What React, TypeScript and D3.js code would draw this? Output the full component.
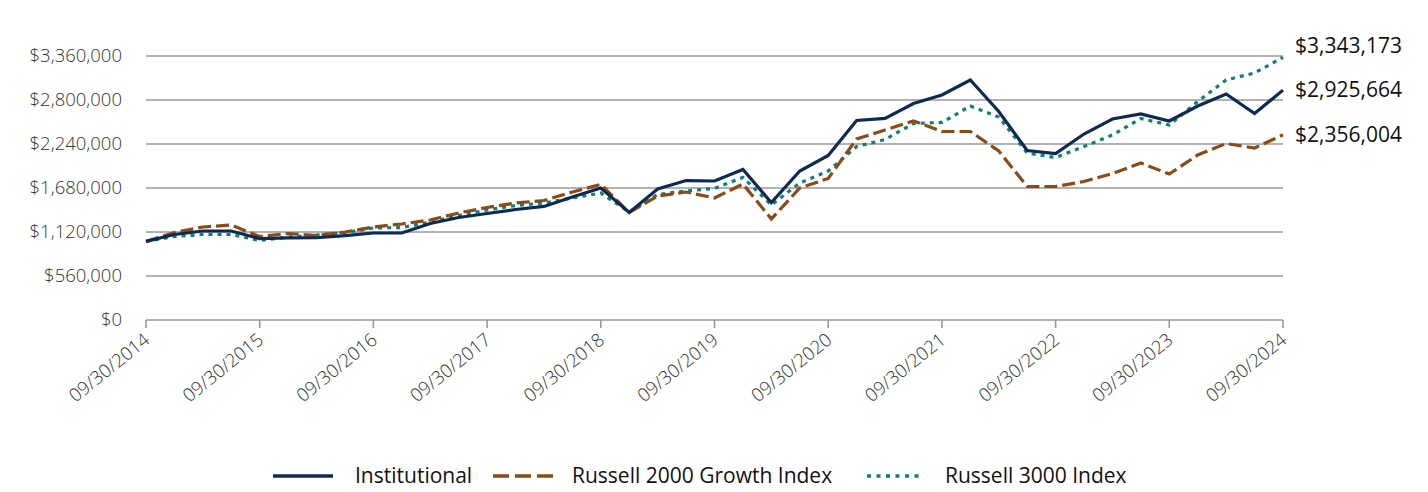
import React from "react";
import * as d3 from "d3";

const yearLabels = ["09/30/2014","09/30/2015","09/30/2016","09/30/2017","09/30/2018","09/30/2019","09/30/2020","09/30/2021","09/30/2022","09/30/2023","09/30/2024"];
const yTicks = [0, 560000, 1120000, 1680000, 2240000, 2800000, 3360000];

const institutional = [1000000,1088000,1133000,1133000,1037000,1044000,1047000,1075000,1107000,1107000,1228000,1305000,1355000,1406000,1445000,1565000,1680000,1368000,1667000,1775000,1769000,1915000,1495000,1896000,2094000,2539000,2565000,2755000,2864000,3055000,2654000,2157000,2119000,2367000,2558000,2622000,2533000,2724000,2876000,2628000,2925664];
const russell2000Growth = [1000000,1114000,1184000,1209000,1063000,1101000,1075000,1120000,1184000,1222000,1273000,1362000,1432000,1489000,1521000,1629000,1725000,1368000,1578000,1629000,1553000,1731000,1285000,1680000,1801000,2304000,2418000,2533000,2399000,2399000,2151000,1699000,1699000,1763000,1865000,1998000,1858000,2100000,2246000,2189000,2356004];
const russell3000 = [1000000,1063000,1088000,1088000,1012000,1056000,1082000,1114000,1171000,1177000,1247000,1330000,1400000,1457000,1489000,1553000,1616000,1375000,1597000,1642000,1674000,1814000,1464000,1744000,1896000,2208000,2297000,2501000,2514000,2724000,2584000,2125000,2068000,2208000,2355000,2565000,2482000,2781000,3055000,3144000,3343173];

const seriesNames = ["Institutional", "Russell 2000 Growth Index", "Russell 3000 Index"];

const W = 1428, H = 492;
const left = 146, right = 1283, top = 56, bottom = 320;

export default function App() {
  const x = d3.scaleLinear().domain([0, 40]).range([left, right]);
  const y = d3.scaleLinear().domain([0, 3360000]).range([bottom, top]);
  const line = d3.line<number>().x((_, i) => x(i)).y((d) => y(d));
  const font = "'Open Sans', 'Noto Sans', sans-serif";

  const series = [
    { name: seriesNames[0], data: institutional, color: "#0f2a52", dash: undefined as string | undefined, legDash: undefined as string | undefined },
    { name: seriesNames[1], data: russell2000Growth, color: "#8c4a16", dash: "13,5", legDash: "16,6" },
    { name: seriesNames[2], data: russell3000, color: "#0b8078", dash: "4,5", legDash: "4,5.5" },
  ];

  const fmt = (v: number) => "$" + d3.format(",")(Math.round(v));

  const legend = [
    { x1: 273, x2: 333, tx: 355 },
    { x1: 493, x2: 553, tx: 572 },
    { x1: 867, x2: 921, tx: 945 },
  ];

  return (
    <svg width={W} height={H} style={{ position: "absolute", left: 0, top: 0, background: "#fff" }} fontFamily={font}>
      {yTicks.map((t) => (
        <g key={t}>
          {t > 0 && <line x1={left} x2={right} y1={y(t)} y2={y(t)} stroke="#999" strokeWidth={1.6} />}
          <text x={122} y={y(t)} dy="0.35em" textAnchor="end" fontSize={18.5} fill="#333" fontWeight={300}>
            {fmt(t)}
          </text>
        </g>
      ))}
      <line x1={left} x2={right} y1={bottom} y2={bottom} stroke="#999" strokeWidth={1.6} />
      {yearLabels.map((lab, k) => (
        <g key={lab}>
          <line x1={x(k * 4)} x2={x(k * 4)} y1={bottom} y2={bottom + 8} stroke="#999" strokeWidth={1.6} />
          <text
            transform={`translate(${x(k * 4) + 5},${bottom + 22}) rotate(-39)`}
            textAnchor="end"
            fontSize={18.5}
            fill="#333"
            fontWeight={300}
          >
            {lab}
          </text>
        </g>
      ))}
      {series.slice().reverse().map((s) => (
        <path
          key={s.name}
          d={line(s.data) || ""}
          fill="none"
          stroke={s.color}
          strokeWidth={3.2}
          strokeDasharray={s.dash}
          strokeLinejoin="miter"
        />
      ))}
      {series.map((s) => (
        <text key={s.name + "lab"} x={1295} y={s.name === seriesNames[2] ? y(s.data[40]) - 12 : y(s.data[40])} dy="0.35em" fontSize={21} fill="#111">
          {fmt(s.data[40])}
        </text>
      ))}
      {series.map((s, i) => (
        <g key={s.name + "leg"}>
          <line x1={legend[i].x1} x2={legend[i].x2} y1={476} y2={476} stroke={s.color} strokeWidth={3.4} strokeDasharray={s.legDash} />
          <text x={legend[i].tx} y={476} dy="0.35em" fontSize={21} fill="#111">
            {s.name}
          </text>
        </g>
      ))}
    </svg>
  );
}
